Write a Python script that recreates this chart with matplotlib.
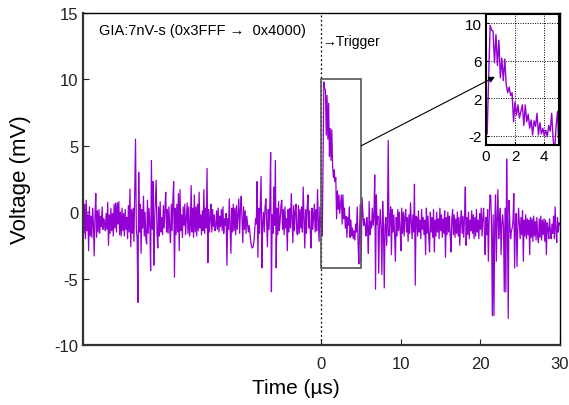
import numpy as np
import matplotlib.pyplot as plt
from matplotlib.patches import Rectangle

# sampling of the trace (us)
t_start = -30.0
dt = 0.1

# voltage (mV), t = -30.0 ... -0.1, ten samples per microsecond
pre_trigger_mv = [
    0.5, -1.6, 0.6, -2.0, 0.9, -1.4, -0.2, -2.9, 0.4, -1.8,
    -0.3, -1.9, 0.3, -0.8, -3.3, -0.2, 1.4, -1.9, 0.1, -1.5,
    0.2, -1.6, -0.3, -1.1, 0.4, -1.3, -0.5, -0.9, -1.4, -0.1,
    -1.3, 0.75, -2.5, -0.2, -1.6, 0.3, -1.4, -0.1, -1.8, 0.6,
    -1.2, 0.7, -1.5, 0.7, -0.9, 0.8, -1.7, 0.0, -1.8, 0.3,
    -1.4, -0.1, -1.8, 0.2, -1.3, -0.4, -2.0, 0.5, -1.5, 1.75,
    -2.6, 0.2, -1.6, 0.3, -2.2, 1.8, 5.5, -1.2, -2.0, -6.8,
    3.0, -1.5, 0.6, -3.1, 0.2, -1.2, 1.2, -1.8, 0.0, -2.0,
    -2.4, 0.9, -1.6, 0.3, -0.9, -4.4, 3.9, -1.3, 2.3, -4.0,
    -0.6, 0.9, 2.4, -1.6, -2.7, 0.4, -1.8, 0.8, -1.5, -0.4,
    -1.7, 0.5, -1.2, 0.3, 1.5, -1.5, 0.2, -1.6, 0.4, -1.2,
    -2.3, 0.6, -1.4, 0.9, 2.3, -4.9, 0.3, -1.7, 0.6, -1.5,
    1.4, -2.9, 1.7, -1.4, -0.2, -1.9, 0.4, -1.0, 0.6, -1.7,
    -0.5, 0.7, -1.6, 0.4, -1.8, -1.0, 2.0, -1.5, 0.3, -1.9,
    1.3, -1.5, 0.4, -1.8, 0.6, -1.4, 1.5, -1.2, -0.2, -1.7,
    0.1, -1.4, 1.7, -1.6, 0.3, -1.2, 3.3, -3.8, 0.2, -1.5,
    -0.6, 0.6, -1.5, 0.2, -1.1, -0.2, -1.4, -1.1, 0.1, -1.3,
    0.3, -1.5, -0.3, -1.1, 0.2, -1.4, 0.4, -1.6, -0.5, -1.0,
    -0.1, -4.0, -0.5, -1.3, 1.0, -1.2, -3.1, 0.3, -1.5, 0.6,
    -1.4, 0.3, -1.7, 0.5, -1.3, -0.2, 1.0, -1.6, 0.2, 1.2,
    -0.5, -2.3, 0.4, -1.3, 0.1, -1.6, -0.3, -0.9, -1.5, -1.0,
    -1.6, -2.2, -2.6, -2.7, -2.6, -2.2, -1.4, -0.5, -0.9, 2.3,
    -3.4, 0.3, -1.6, 0.5, 2.7, -4.2, -0.8, 0.0, -1.5, 0.4,
    1.0, -0.8, -2.6, 0.2, -1.3, 0.6, 4.5, -6.0, -0.2, -1.6,
    1.9, -1.0, 3.9, -4.2, 0.3, -1.7, 0.8, -1.4, -0.6, 0.5,
    0.9, -1.3, 0.2, -1.7, 0.4, -1.2, -0.5, -2.9, 0.2, -1.5,
    0.3, -1.2, 1.4, -0.5, -2.3, 0.5, -1.4, 0.1, 0.6, -1.6,
    -1.7, 0.5, -1.6, 0.2, -1.2, 0.4, -1.5, 1.9, -0.6, -2.7,
    0.2, -1.6, 0.4, 1.3, -1.2, 0.1, -1.6, -2.7, 0.3, -1.3,
    -0.3, 0.6, -1.5, 0.2, -1.4, 1.7, -0.6, -2.2, 0.4, -1.1,
]

# voltage (mV), t = 0.0 ... 30.0
post_trigger_mv = [
    -0.5, -1.8, 3.9, 9.8, 9.3, 9.2, 5.8, 8.8, 5.5, 8.2,
    4.2, 6.3, 3.9, 6.2, 3.5, 2.6, 3.2, 2.3, 2.6, -0.5,
    1.6, 0.2, 1.3, -0.1, 0.6, 1.3, -0.9, 1.3, -0.5, 0.3,
    -1.2, -0.3, -1.9, -0.4, -1.0, 0.4, -1.9, -0.6, -1.8, -1.2,
    -2.0, -1.4, -2.1, -0.9, -1.5, 0.4, -2.3, -3.9, -1.0, 0.6,
    -3.7, 1.1, 0.0, -1.0, -0.5, -1.0, -1.8, -0.4, -1.2, -3.1,
    0.8, -1.7, -0.7, -1.2, 0.3, -1.0, -0.2, 2.8, -5.8, 1.3,
    -0.9, -0.3, -4.6, -1.0, 0.2, -1.3, -4.7, 0.8, -1.2, -5.7,
    -1.0, -0.4, -2.5, -0.8, 5.4, -1.8, -0.6, 0.4, -3.2, 0.2,
    -1.5, -0.2, -1.7, -3.7, -0.4, -1.8, 0.2, -1.4, 0.0, -1.3,
    -2.9, 0.3, -1.6, 0.0, -1.8, -0.3, 0.2, -1.5, -0.4, -2.2,
    -0.2, -1.6, 0.7, -0.6, -2.0, -0.2, -1.5, 2.1, -5.5, -0.3,
    -0.4, -1.8, 0.1, -1.5, -0.6, -2.0, 0.2, -1.3, -0.4, -1.7,
    -0.6, -3.2, 0.3, -1.6, -0.3, -1.9, -3.0, 0.0, -1.5, -0.4,
    -1.9, 0.2, -3.0, -0.6, -1.8, 0.0, -1.5, -0.5, -2.0, 0.3,
    -1.4, -0.2, -1.9, -0.5, -1.6, 0.1, -3.4, -0.4, -1.7, 0.0,
    -1.5, -0.3, -1.8, -3.0, -0.6, 0.2, -1.7, -0.2, -1.9, -0.5,
    -1.6, 0.0, -1.8, -0.4, -2.5, -0.7, 0.1, -1.6, -0.3, -1.9,
    -0.4, 1.9, -2.5, -0.4, -1.7, 0.0, -2.0, -0.6, -1.4, 0.1,
    -1.6, -0.2, -2.0, -0.4, -1.8, 0.2, -1.5, -0.6, -2.0, -0.1,
    -1.3, 0.3, -1.8, -0.5, 0.3, -1.6, -3.2, -0.4, -1.7, 0.2,
    -3.7, -0.6, 1.3, 1.2, -1.0, -7.8, -0.2, -7.8, -0.9, 1.3,
    -3.7, -0.5, 1.7, -2.0, -0.7, 0.3, -3.2, -0.9, -0.2, -1.1,
    -6.0, 0.3, -6.0, 4.0, -1.0, -8.0, 0.9, -0.8, -2.0, -1.4,
    -1.2, -0.6, 1.4, -4.2, -0.9, -0.1, -4.1, -1.3, 0.3, -0.8,
    -2.0, -0.4, -1.7, 0.1, -3.7, -0.6, -1.8, -0.2, -2.0, -0.5,
    -1.7, -0.6, -3.2, -0.4, -1.9, -0.5, -2.2, -0.3, -1.8, -0.7,
    -2.1, -0.4, -1.8, -2.3, -0.5, -1.9, -0.3, -2.1, -0.6, -1.7,
    -0.5, -2.2, -0.6, -3.2, -0.8, -1.2, -2.0, -0.5, -1.4, -2.0,
    -0.9, -1.6, -0.3, -2.0, 0.4, -1.3, -2.3, -0.4, -1.5, -0.8,
    -0.9,
]

x_ticks = [0, 10, 20, 30]
y_ticks = [-10, -5, 0, 5, 10, 15]
inset_x_ticks = [0, 2, 4]
inset_y_ticks = [-2, 2, 6, 10]

plt.rcParams['font.family'] = ['Liberation Sans', 'DejaVu Sans']
plt.rcParams['axes.unicode_minus'] = False

voltage = np.array(pre_trigger_mv + post_trigger_mv)
time = t_start + dt * np.arange(len(voltage))

trace_color = '#9400D3'

fig = plt.figure(figsize=(5.69, 4.06), dpi=100)
ax = fig.add_axes([0.146, 0.148, 0.838, 0.8175])

ax.plot(time, voltage, color=trace_color, lw=0.9)
ax.axvline(0, color='k', ls=(0, (1.5, 2)), lw=0.9)

ax.set_xlim(-30, 30)
ax.set_ylim(-10, 15)
ax.set_xticks(x_ticks)
ax.set_yticks(y_ticks)
ax.tick_params(direction='in', length=4, labelsize=12, colors='#222222')
ax.tick_params(axis='x', pad=8)
for side in ['left', 'bottom']:
    ax.spines[side].set_linewidth(1.6)
    ax.spines[side].set_color('#333333')
for side in ['top', 'right']:
    ax.spines[side].set_linewidth(1.0)

ax.set_xlabel('Time (\u00b5s)', fontsize=15)
ax.xaxis.set_label_coords(0.447, -0.10)
ax.set_ylabel('Voltage (mV)', fontsize=16, labelpad=17)

ax.text(-28.0, 13.7, 'GIA:7nV-s (0x3FFF \u2192  0x4000)', fontsize=10.5, va='center')
ax.text(0.1, 12.9, '\u2192Trigger', fontsize=10, va='center')

# zoom box
ax.add_patch(Rectangle((0, -4.2), 5, 14.2, fill=False, ec='#555555', lw=1.2, zorder=3))

# inset
ax_in = fig.add_axes([0.8536, 0.640, 0.1288, 0.323])
ax_in.plot(time, voltage, color=trace_color, lw=1.0)
ax_in.set_xlim(0, 5)
ax_in.set_ylim(-3, 11)
ax_in.set_xticks(inset_x_ticks)
ax_in.set_yticks(inset_y_ticks)
ax_in.grid(True, color='k', ls=(0, (1, 1.5)), lw=0.7)
ax_in.tick_params(direction='in', length=2, labelsize=11, pad=3)
for s in ax_in.spines.values():
    s.set_linewidth(1.5)

ax_in.annotate('', xy=(0.63, 4.3), xycoords='data',
               xytext=(5, 5), textcoords=ax.transData,
               arrowprops=dict(arrowstyle='-|>', color='k', lw=0.8,
                               mutation_scale=9, shrinkA=0, shrinkB=0),
               annotation_clip=False)

fig.savefig('out.png', dpi=100)
